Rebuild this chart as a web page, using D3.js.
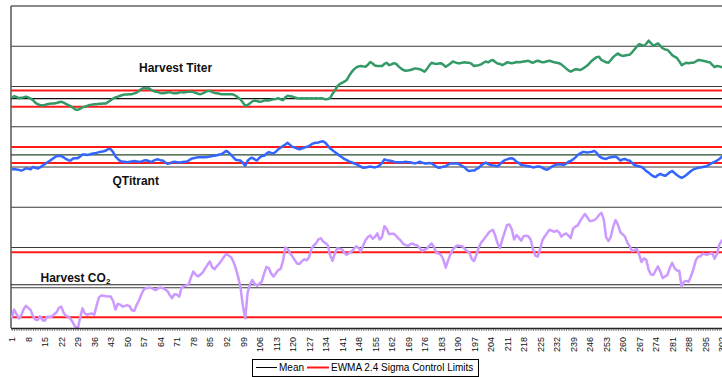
<!DOCTYPE html>
<html>
<head>
<meta charset="utf-8">
<script src="https://cdn.jsdelivr.net/npm/d3@7/dist/d3.min.js"></script>
<style>
  body { margin: 0; background: #fff; }
  svg { display: block; font-family: "Liberation Sans", Arial, sans-serif; }
</style>
</head>
<body>
<svg id="chart" width="722" height="377"></svg>
<script>
// Batch-ordered EWMA traces, plotted on a shared 0-80 index scale
const harvestTiter = [
  57.1,57.6,57.4,57.1,57.2,57.3,57.5,57.3,57.0,56.6,56.0,55.6,55.4,55.3,55.4,55.6,55.7,55.8,55.8,55.9,
  56.1,56.2,56.0,55.7,55.4,55.1,54.7,54.3,54.2,54.5,54.8,55.0,55.2,55.4,55.5,55.6,55.6,55.7,55.7,55.8,
  55.8,56.2,56.6,57.0,57.3,57.5,57.7,57.9,58.0,58.0,58.1,58.1,58.3,58.5,58.9,59.4,59.6,59.5,59.6,59.2,
  58.9,58.7,58.6,58.4,58.3,58.4,58.5,58.6,58.4,58.3,58.3,58.5,58.6,58.5,58.6,58.7,58.7,58.6,58.4,58.2,
  58.1,58.3,58.6,58.9,58.9,58.6,58.4,58.3,58.2,58.1,58.1,58.1,58.1,58.1,58.0,57.7,57.2,56.8,56.0,55.2,
  55.4,55.8,56.3,56.5,56.4,56.2,56.3,56.5,56.6,56.5,56.7,56.8,56.9,57.1,56.8,56.6,57.3,57.7,57.6,57.5,
  57.3,57.1,57.0,57.1,57.0,57.1,57.0,57.1,57.0,57.1,57.0,57.1,57.0,56.8,56.9,57.1,58.2,59.0,60.0,60.6,
  60.9,61.2,61.6,62.6,63.5,64.2,64.7,65.0,65.1,65.0,64.9,65.4,66.1,65.7,65.2,65.1,65.1,65.1,65.6,65.9,
  65.3,65.5,65.8,65.6,65.0,64.5,64.1,63.9,64.0,64.1,64.3,64.5,64.4,64.3,64.0,63.7,64.3,65.2,65.9,65.7,
  65.6,65.7,65.8,65.4,64.9,65.3,65.7,66.2,66.0,65.8,65.8,65.9,66.0,65.9,65.9,65.6,65.1,65.2,65.3,65.5,
  65.9,66.2,66.0,66.4,66.6,66.1,65.7,65.6,65.3,65.6,66.0,65.9,65.8,65.9,66.1,66.0,66.1,66.2,66.3,66.4,
  66.1,65.9,66.2,66.4,66.2,66.0,66.1,66.3,66.4,66.2,66.0,65.9,65.8,65.5,65.0,64.5,64.0,63.7,64.0,64.3,
  64.2,64.1,64.4,64.8,65.2,65.8,66.4,66.9,67.3,67.4,66.6,66.3,66.0,65.9,66.6,67.3,67.8,68.2,67.8,67.6,
  67.7,67.8,67.9,68.5,69.2,69.9,70.5,70.3,70.1,70.6,71.4,70.8,70.1,70.4,70.7,70.1,69.5,69.2,69.1,68.5,
  67.8,67.4,67.1,66.3,65.3,65.6,65.9,65.8,65.9,65.9,66.2,66.6,66.5,66.4,66.3,66.1,66.0,65.4,64.8,65.1,
  65.0,64.8,64.9,65.0
];
const qTitrant = [
  39.4,39.5,39.4,39.3,39.1,39.3,39.7,39.6,39.4,40.0,39.8,39.6,39.9,40.3,40.7,41.1,41.5,41.9,42.3,42.7,
  42.8,42.7,42.4,42.0,41.7,41.6,42.1,42.2,42.2,42.6,43.1,43.1,43.0,43.1,43.3,43.4,43.5,43.7,43.8,43.9,
  44.1,44.5,44.4,43.7,42.6,42.0,41.5,41.3,41.3,41.2,41.3,41.4,41.5,41.4,41.3,41.4,41.6,41.7,41.5,41.2,
  41.5,41.8,41.9,41.7,41.6,41.2,40.8,40.9,41.2,41.3,41.2,41.1,41.2,41.3,41.3,41.6,42.0,42.2,42.3,42.4,
  42.4,42.4,42.4,42.5,42.6,42.7,42.8,42.9,43.1,43.2,43.6,44.0,43.6,43.0,42.4,41.8,41.7,41.6,41.0,40.3,
  41.5,42.1,42.3,41.9,41.6,42.3,42.7,42.8,43.3,43.7,43.5,43.4,43.8,44.4,44.8,45.2,45.6,46.0,45.5,45.0,
  44.8,44.6,44.4,44.6,44.8,45.0,45.2,45.6,45.9,46.0,46.1,46.3,46.4,46.0,45.3,44.6,44.2,43.7,43.3,42.8,
  42.4,42.0,41.7,41.4,41.2,40.9,40.7,40.4,40.1,39.8,39.9,40.0,40.1,40.0,39.9,40.1,40.4,41.0,41.9,41.7,
  41.6,41.5,41.3,41.2,41.2,41.2,41.2,41.3,41.2,41.2,41.0,40.9,41.1,41.3,41.1,40.9,40.9,41.0,40.9,40.5,
  40.1,39.8,39.9,40.1,40.2,40.6,40.9,40.9,40.9,40.9,40.6,40.2,39.9,39.3,39.0,39.1,39.1,39.5,39.8,40.4,
  40.8,41.1,40.7,40.5,40.4,40.3,40.2,40.7,41.3,41.7,41.9,42.1,42.2,41.9,41.3,41.0,40.5,40.4,40.3,40.2,
  40.1,39.9,40.0,40.1,40.1,39.8,39.5,39.3,39.7,40.1,40.4,40.6,40.7,40.6,40.5,40.8,41.3,41.5,41.9,42.4,
  43.0,43.4,43.7,43.7,43.6,43.7,43.8,44.0,43.5,42.7,42.3,42.1,42.0,42.3,42.4,42.5,42.6,42.2,41.6,41.9,
  42.0,41.7,41.6,41.0,40.5,40.3,40.2,40.0,39.6,39.0,38.6,38.1,37.7,37.5,38.0,38.3,38.0,37.8,38.2,38.7,
  39.0,38.5,38.0,37.6,37.3,37.6,38.0,38.5,39.0,39.4,39.6,39.8,39.9,40.0,40.1,40.3,40.7,41.0,41.3,41.6,
  42.0,42.5,42.8,43.0
];
const harvestCO2 = [
  2.4,4.6,3.5,2.4,3.0,4.6,5.5,5.0,4.5,3.0,2.1,2.0,2.9,2.0,1.8,2.8,2.8,2.8,3.4,3.9,
  5.0,5.3,3.8,3.0,2.8,2.2,1.3,0.3,-0.1,2.5,4.9,3.6,3.3,3.5,3.6,3.3,5.6,7.6,8.1,8.0,
  7.9,7.8,7.8,6.7,4.6,6.0,5.8,5.3,5.5,5.7,5.4,4.4,4.3,5.8,6.9,8.4,9.6,9.9,10.0,10.0,
  9.7,9.4,9.8,10.1,9.9,9.6,9.2,8.2,7.4,8.4,8.3,7.8,10.0,10.4,10.6,10.8,12.6,14.0,13.3,12.8,
  13.3,13.8,14.8,15.7,16.5,15.1,14.6,15.4,16.0,16.8,17.7,18.4,18.0,17.6,16.5,14.8,12.7,10.1,5.5,2.4,
  8.8,10.8,11.9,11.0,10.5,11.0,11.5,13.5,15.2,14.9,13.5,12.8,13.6,14.4,14.7,16.6,20.0,19.6,18.6,17.8,
  16.9,16.0,15.9,16.6,17.1,16.8,17.5,19.6,20.5,21.0,22.0,22.3,21.5,21.1,20.6,18.0,16.7,18.5,19.8,19.7,
  19.6,18.7,18.2,18.6,19.0,19.6,20.3,19.9,19.0,20.5,21.8,22.6,23.0,22.2,22.6,23.5,22.0,22.6,25.3,24.6,
  23.3,23.4,23.4,22.9,22.2,21.7,20.9,20.6,20.4,20.8,21.0,20.6,20.5,19.8,19.1,19.5,19.7,20.4,21.0,20.2,
  18.7,18.5,18.2,17.0,15.0,16.8,18.3,19.5,20.1,20.5,20.4,20.3,19.7,19.1,18.8,17.2,16.6,18.2,20.0,21.2,
  21.9,22.7,23.5,24.1,24.4,22.9,21.0,19.9,22.0,23.8,25.6,25.7,24.5,22.0,23.1,22.5,21.7,22.8,22.9,22.8,
  22.0,19.5,18.0,17.7,19.6,21.8,22.8,23.6,24.4,24.2,23.9,24.2,23.8,22.7,23.2,23.5,23.0,22.3,24.7,25.2,
  25.5,26.6,27.5,28.3,27.5,26.6,26.6,26.8,27.3,28.1,28.6,27.0,22.5,21.6,22.7,25.2,26.8,25.7,23.8,23.3,
  22.7,21.2,20.3,19.1,19.3,19.7,18.2,16.4,17.3,17.0,14.5,13.3,13.2,14.3,15.3,14.0,12.4,12.8,13.2,14.9,
  16.2,14.9,14.3,14.2,10.3,11.5,11.7,11.5,12.9,14.6,16.8,17.7,17.8,18.5,18.3,18.2,18.5,18.6,17.2,18.4,
  20.7,21.7,21.9,22.2
];

// Control limits per chart: [lower, mean, upper]
const titerLimits = [55, 57, 59];
const qTitrantLimits = [41, 43, 45];
const co2Limits = [2.7, 10.75, 18.8];

const gridLevels = [0, 10, 20, 30, 40, 50, 60, 70, 80];
const tickLabels = [1,8,15,22,29,36,43,50,57,64,71,78,85,92,99,106,113,120,127,134,141,148,
  155,162,169,176,183,190,197,204,211,218,225,232,239,246,253,260,267,274,281,288,295,302];
const legendItems = ["Mean", "EWMA 2.4 Sigma Control Limits"];

const svg = d3.select("#chart");
const W = 722;
const plotLeft = 11, plotTop = 6, plotBottom = 328;

const x = d3.scaleLinear().domain([1, 302]).range([11.7, 721.7]);
const y = d3.scaleLinear().domain([0, 80]).range([plotBottom, plotTop]);

// horizontal gridlines
svg.append("g").selectAll("line").data(gridLevels.slice(1, -1)).join("line")
  .attr("x1", plotLeft).attr("x2", W)
  .attr("y1", d => y(d)).attr("y2", d => y(d))
  .attr("stroke", "#3a3a3a").attr("stroke-width", 1);

// plot frame: top, left
svg.append("line").attr("x1", plotLeft).attr("x2", W).attr("y1", y(80)).attr("y2", y(80))
  .attr("stroke", "#8a8a8a").attr("stroke-width", 2);
svg.append("line").attr("x1", plotLeft).attr("x2", plotLeft).attr("y1", y(80)).attr("y2", plotBottom)
  .attr("stroke", "#555").attr("stroke-width", 1.5);

const charts = [
  { data: harvestTiter, limits: titerLimits, color: "#339966", meanColor: "#111" },
  { data: qTitrant, limits: qTitrantLimits, color: "#3366ff", meanColor: "#2a4a2a" },
  { data: harvestCO2, limits: co2Limits, color: "#cc99ff", meanColor: "#222" }
];

// control limit and mean lines
charts.forEach(c => {
  const [lcl, mean, ucl] = c.limits;
  [lcl, ucl].forEach(v => {
    svg.append("line").attr("x1", plotLeft).attr("x2", W)
      .attr("y1", y(v)).attr("y2", y(v))
      .attr("stroke", "#ff1a1a").attr("stroke-width", 2);
  });
  svg.append("line").attr("x1", plotLeft).attr("x2", W)
    .attr("y1", y(mean)).attr("y2", y(mean))
    .attr("stroke", c.meanColor).attr("stroke-width", 1.2);
});

// series lines
const line = d3.line().x((d, i) => x(i + 1)).y(d => y(d));
charts.forEach(c => {
  svg.append("path").datum(c.data)
    .attr("fill", "none").attr("stroke", c.color)
    .attr("stroke-width", 2.5).attr("stroke-linejoin", "round")
    .attr("d", line);
});

// category axis with a tick on every batch
const nPts = harvestTiter.length;
const axis = d3.axisBottom(x)
  .tickValues(d3.range(1, nPts + 1))
  .tickSize(3)
  .tickFormat(d => tickLabels.includes(d) ? d : "");
const gx = svg.append("g").attr("transform", `translate(0,${plotBottom})`).call(axis);
gx.select(".domain").attr("d", `M${plotLeft},0.5H${W}`).attr("stroke", "#222").attr("stroke-width", 1.5);
gx.selectAll(".tick line").attr("stroke", "#333").attr("stroke-width", 0.6);
gx.selectAll(".tick text")
  .attr("font-size", 9).attr("fill", "#111")
  .attr("font-family", "Liberation Sans, Arial, sans-serif")
  .attr("text-anchor", "end")
  .attr("transform", "rotate(-90)")
  .attr("x", -9).attr("y", 0).attr("dy", "0.35em");

// chart titles
const titles = svg.append("g").attr("font-weight", "bold").attr("font-size", 12).attr("fill", "#111");
titles.append("text").attr("x", 139).attr("y", 72).text("Harvest Titer");
titles.append("text").attr("x", 112.5).attr("y", 184.5).text("QTitrant");
const co2 = titles.append("text").attr("x", 40.5).attr("y", 281.5);
co2.append("tspan").text("Harvest CO");
co2.append("tspan").attr("font-size", 8).attr("dy", 2).text("2");

// legend
const lg = svg.append("g");
lg.append("rect").attr("x", 252.5).attr("y", 359.5).attr("width", 226).attr("height", 17)
  .attr("fill", "#fff").attr("stroke", "#000").attr("stroke-width", 1);
lg.append("line").attr("x1", 256).attr("x2", 277).attr("y1", 367.5).attr("y2", 367.5)
  .attr("stroke", "#000").attr("stroke-width", 1);
lg.append("text").attr("x", 279).attr("y", 371).attr("font-size", 10).attr("fill", "#000").text(legendItems[0]);
lg.append("line").attr("x1", 307).attr("x2", 329).attr("y1", 367.5).attr("y2", 367.5)
  .attr("stroke", "#ff1a1a").attr("stroke-width", 2);
lg.append("text").attr("x", 331).attr("y", 371).attr("font-size", 10).attr("fill", "#000").text(legendItems[1]);
</script>
</body>
</html>
